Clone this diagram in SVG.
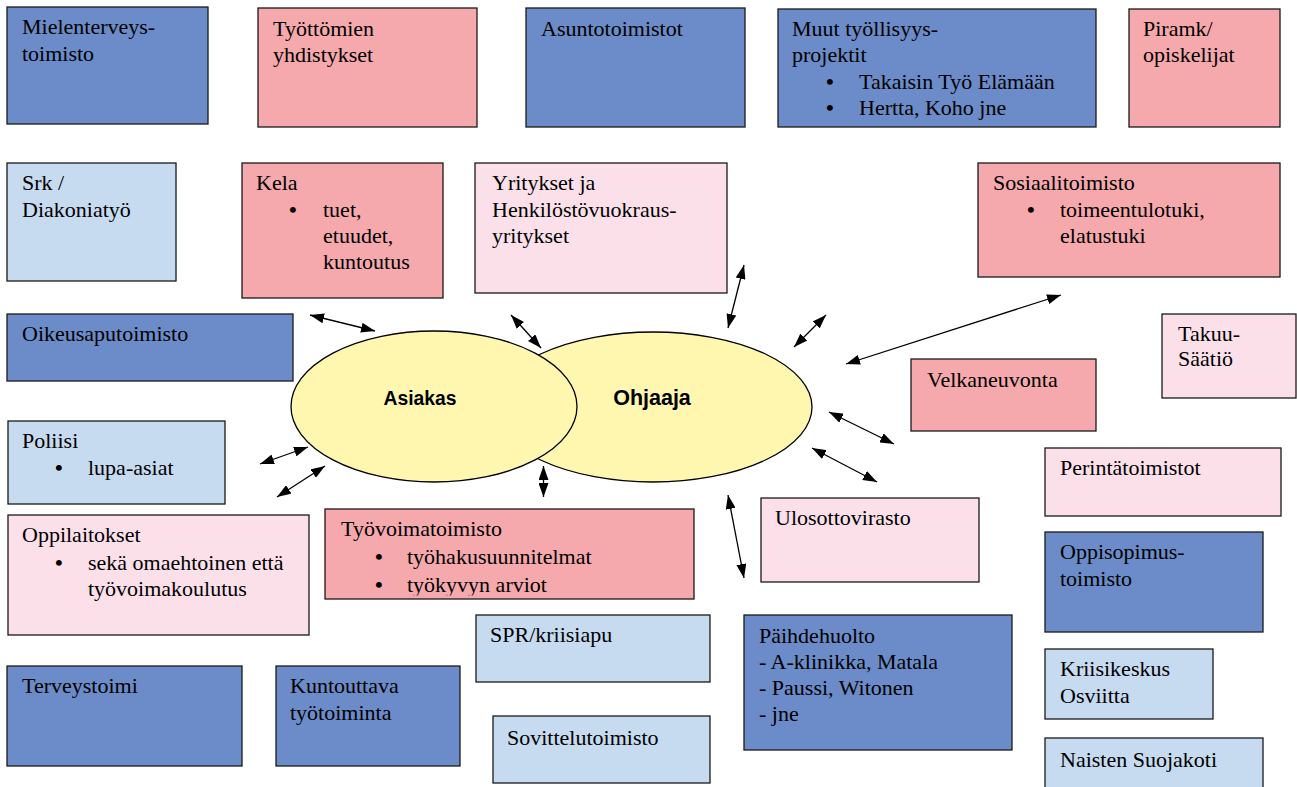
<svg xmlns="http://www.w3.org/2000/svg" width="1297" height="787" viewBox="0 0 1297 787">
<style>
.box{stroke:#1a1a1a;stroke-width:1.3}
.db{fill:#6B8CC8}.pk{fill:#F5A9AD}.lp{fill:#FBE0EA}.lb{fill:#C6DBF0}
.t{font-family:"Liberation Serif","Times New Roman",serif;font-size:22px;fill:#000}
.bu{font-family:"Liberation Serif","Times New Roman",serif;font-size:22px;font-weight:bold;fill:#000}
.e{fill:#FFF7B0;stroke:#000;stroke-width:1.3}
.el{font-family:"Liberation Sans",Arial,sans-serif;font-weight:bold;fill:#000;text-anchor:middle}
.c line{stroke:#000;stroke-width:1.3;marker-start:url(#ah);marker-end:url(#ah)}
</style>
<defs>
<marker id="ah" viewBox="0 0 14 10" refX="14" refY="5" markerWidth="14" markerHeight="10" markerUnits="userSpaceOnUse" orient="auto-start-reverse"><path d="M0,0 L14,5 L0,10 z" fill="#000"/></marker>
<clipPath id="cTyo"><rect x="325" y="509" width="369" height="86.5"/></clipPath>
</defs>
<rect width="1297" height="787" fill="#fff"/>

<g id="mielenterveystoimisto"><rect class="box db" x="7" y="7" width="201" height="117"/><text class="t" x="22" y="34">Mielenterveys-</text><text class="t" x="22" y="61">toimisto</text></g>
<g id="tyottomien"><rect class="box pk" x="258" y="8" width="219" height="119"/><text class="t" x="273" y="36">Työttömien</text><text class="t" x="273" y="62">yhdistykset</text></g>
<g id="asuntotoimistot"><rect class="box db" x="526" y="8" width="219" height="119"/><text class="t" x="541" y="36">Asuntotoimistot</text></g>
<g id="muut"><rect class="box db" x="778" y="9" width="318" height="118"/><text class="t" x="792" y="36">Muut työllisyys-</text><text class="t" x="792" y="62">projektit</text><text class="bu" x="826" y="89">•</text><text class="t" x="859" y="89">Takaisin Työ Elämään</text><text class="bu" x="826" y="115">•</text><text class="t" x="859" y="115">Hertta, Koho jne</text></g>
<g id="piramk"><rect class="box pk" x="1129" y="9" width="151" height="118"/><text class="t" x="1143" y="36">Piramk/</text><text class="t" x="1143" y="62">opiskelijat</text></g>

<g id="srk"><rect class="box lb" x="7" y="163" width="169" height="118"/><text class="t" x="22" y="190">Srk /</text><text class="t" x="22" y="217">Diakoniatyö</text></g>
<g id="kela"><rect class="box pk" x="242" y="163" width="201" height="135"/><text class="t" x="256" y="190">Kela</text><text class="bu" x="289" y="217">•</text><text class="t" x="323" y="217">tuet,</text><text class="t" x="323" y="243">etuudet,</text><text class="t" x="323" y="269">kuntoutus</text></g>
<g id="yritykset"><rect class="box lp" x="475" y="163" width="252" height="130"/><text class="t" x="492" y="190">Yritykset ja</text><text class="t" x="492" y="217">Henkilöstövuokraus-</text><text class="t" x="492" y="243">yritykset</text></g>
<g id="sosiaalitoimisto"><rect class="box pk" x="978" y="163" width="302" height="114"/><text class="t" x="993" y="190">Sosiaalitoimisto</text><text class="bu" x="1027" y="217">•</text><text class="t" x="1060" y="217">toimeentulotuki,</text><text class="t" x="1060" y="243">elatustuki</text></g>
<g id="takuusaatio"><rect class="box lp" x="1162" y="314" width="134" height="84"/><text class="t" x="1178" y="341">Takuu-</text><text class="t" x="1178" y="366">Säätiö</text></g>
<g id="oikeusaputoimisto"><rect class="box db" x="7" y="314" width="286" height="67"/><text class="t" x="22" y="341">Oikeusaputoimisto</text></g>
<g id="velkaneuvonta"><rect class="box pk" x="911" y="359" width="185" height="72"/><text class="t" x="927" y="387">Velkaneuvonta</text></g>
<g id="poliisi"><rect class="box lb" x="8" y="421" width="217" height="83"/><text class="t" x="22" y="448">Poliisi</text><text class="bu" x="55" y="475">•</text><text class="t" x="88" y="475">lupa-asiat</text></g>
<g id="perintatoimistot"><rect class="box lp" x="1045" y="448" width="236" height="68"/><text class="t" x="1060" y="475">Perintätoimistot</text></g>
<g id="oppilaitokset"><rect class="box lp" x="8" y="515" width="301" height="120"/><text class="t" x="22" y="542">Oppilaitokset</text><text class="bu" x="55" y="570">•</text><text class="t" x="88" y="570">sekä omaehtoinen että</text><text class="t" x="88" y="596">työvoimakoulutus</text></g>
<g id="tyovoimatoimisto"><rect class="pk" x="325" y="509" width="369" height="90"/><g clip-path="url(#cTyo)"><text class="t" x="341" y="536">Työvoimatoimisto</text><text class="bu" x="375" y="564">•</text><text class="t" x="407" y="564">työhakusuunnitelmat</text><text class="bu" x="375" y="592">•</text><text class="t" x="407" y="592">työkyvyn arviot</text></g><rect class="box" fill="none" x="325" y="509" width="369" height="90"/></g>
<g id="ulosottovirasto"><rect class="box lp" x="761" y="498" width="218" height="84"/><text class="t" x="775" y="525">Ulosottovirasto</text></g>
<g id="oppisopimustoimisto"><rect class="box db" x="1045" y="532" width="218" height="100"/><text class="t" x="1060" y="559">Oppisopimus-</text><text class="t" x="1060" y="586">toimisto</text></g>
<g id="spr"><rect class="box lb" x="476" y="615" width="234" height="67"/><text class="t" x="490" y="642">SPR/kriisiapu</text></g>
<g id="paihdehuolto"><rect class="box db" x="744" y="615" width="268" height="135"/><text class="t" x="759" y="643">Päihdehuolto</text><text class="t" x="759" y="669">- A-klinikka, Matala</text><text class="t" x="759" y="695">- Paussi, Witonen</text><text class="t" x="759" y="721">- jne</text></g>
<g id="kriisikeskus"><rect class="box lb" x="1045" y="649" width="168" height="70"/><text class="t" x="1060" y="676">Kriisikeskus</text><text class="t" x="1060" y="703">Osviitta</text></g>
<g id="naistensuojakoti"><rect class="box lb" x="1045" y="738" width="218" height="60"/><text class="t" x="1060" y="767">Naisten Suojakoti</text></g>
<g id="terveystoimi"><rect class="box db" x="7" y="666" width="235" height="100"/><text class="t" x="22" y="693">Terveystoimi</text></g>
<g id="kuntouttava"><rect class="box db" x="276" y="666" width="184" height="100"/><text class="t" x="290" y="693">Kuntouttava</text><text class="t" x="290" y="720">työtoiminta</text></g>
<g id="sovittelutoimisto"><rect class="box lb" x="493" y="716" width="217" height="67"/><text class="t" x="507" y="745">Sovittelutoimisto</text></g>

<g id="ohjaaja"><ellipse class="e" cx="653" cy="407" rx="159" ry="75"/><text class="el" x="652" y="405" font-size="21.5">Ohjaaja</text></g>
<g id="asiakas"><ellipse class="e" cx="434" cy="406.5" rx="143" ry="75.5"/><text class="el" x="420" y="405" font-size="20" textLength="73" lengthAdjust="spacingAndGlyphs">Asiakas</text></g>

<g id="connectors" class="c">
<line x1="310" y1="315" x2="375" y2="331"/>
<line x1="511" y1="315" x2="541" y2="348"/>
<line x1="744" y1="265" x2="728" y2="328"/>
<line x1="826" y1="315" x2="794" y2="347"/>
<line x1="1061" y1="295" x2="846" y2="364"/>
<line x1="829" y1="412" x2="894" y2="444"/>
<line x1="812" y1="448" x2="877" y2="482"/>
<line x1="728" y1="495" x2="744" y2="578"/>
<line x1="543.5" y1="466" x2="543.5" y2="497"/>
<line x1="260" y1="464" x2="308" y2="447"/>
<line x1="277" y1="497" x2="325" y2="466"/>
</g>
</svg>
